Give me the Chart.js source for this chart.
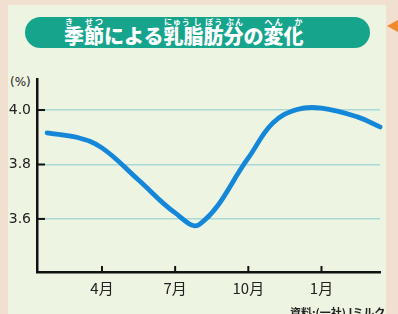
<!DOCTYPE html>
<html lang="ja">
<head>
<meta charset="utf-8">
<script src="https://cdn.jsdelivr.net/npm/chart.js@4"></script>
<style>
  html, body { margin: 0; padding: 0; }
  body {
    width: 398px; height: 314px; overflow: hidden; position: relative;
    background: #f1dfcf;
    font-family: "Noto Sans CJK JP", "Noto Sans", sans-serif;
  }
  .panel {
    position: absolute; left: 8px; top: 5px; width: 378px; height: 309px;
    background: #edf4e1;
  }
  .banner {
    position: absolute; left: 25px; top: 17px; width: 345px; height: 31px;
    border-radius: 16px; background: #17a48d;
  }
  .title {
    position: absolute; left: 64px; top: 17px; white-space: nowrap;
    color: #fff; font-weight: 900; font-size: 20px; line-height: 20px;
  }
  .title ruby rt { font-size: 8px; line-height: 8px; font-weight: 700; }
  .arrow {
    position: absolute; left: 387px; top: 20px; width: 0; height: 0;
    border-top: 6px solid transparent; border-bottom: 6px solid transparent;
    border-right: 11px solid #f08a2a;
  }
  .unit { position: absolute; left: 10px; top: 75px; font-size: 12px; color: #222; font-family: "DejaVu Sans", sans-serif; }
  .source { position: absolute; left: 290px; top: 304px; font-size: 11px; color: #222; font-weight: 700; white-space: nowrap; }
  #chart { position: absolute; left: 0; top: 0; }
</style>
</head>
<body>
<div class="panel"></div>
<div class="banner"></div>
<div class="title"><ruby>季節<rt>き　せつ</rt></ruby>による<ruby>乳脂肪分<rt>にゅう し ぼう ぶん</rt></ruby>の<ruby>変化<rt>へん　か</rt></ruby></div>
<div class="arrow"></div>
<div class="unit">(%)</div>
<canvas id="chart" width="398" height="314"></canvas>
<div class="source">資料:(一社)Jミルク</div>
<script>
// month position (13 = next January) and fat percentage
const months = [1.75, 3, 4, 5.5, 7, 8, 10, 11, 12, 13, 14.5, 15.4];
const fatPct = [3.916, 3.899, 3.861, 3.743, 3.622, 3.580, 3.824, 3.952, 4.002, 4.007, 3.974, 3.938];

const xTicks = [4, 7, 10, 13];
const xTickLabels = ['4月', '7月', '10月', '1月'];
const yTicks = [3.6, 3.8, 4.0];

const points = months.map((m, i) => ({ x: m, y: fatPct[i] }));

// short black tick marks drawn inside the plot area
const innerTicks = {
  id: 'innerTicks',
  afterDraw(chart) {
    const { ctx, chartArea, scales } = chart;
    ctx.save();
    ctx.strokeStyle = '#111';
    ctx.lineWidth = 2;
    yTicks.forEach(v => {
      const y = scales.y.getPixelForValue(v);
      ctx.beginPath();
      ctx.moveTo(chartArea.left, y);
      ctx.lineTo(chartArea.left + 8, y);
      ctx.stroke();
    });
    xTicks.forEach(v => {
      const x = scales.x.getPixelForValue(v);
      ctx.beginPath();
      ctx.moveTo(x, chartArea.bottom);
      ctx.lineTo(x, chartArea.bottom - 6);
      ctx.stroke();
    });
    ctx.restore();
  }
};

new Chart(document.getElementById('chart'), {
  type: 'line',
  data: {
    datasets: [{
      data: points,
      borderColor: '#1587d8',
      borderWidth: 4.8,
      borderCapStyle: 'round',
      tension: 0.4,
      pointRadius: 0,
      fill: false,
      clip: false
    }]
  },
  options: {
    responsive: false,
    animation: false,
    layout: { padding: { top: 79, right: 18, bottom: 10, left: 0 } },
    plugins: { legend: { display: false }, tooltip: { enabled: false } },
    scales: {
      x: {
        type: 'linear',
        min: 1.336,
        max: 15.4,
        afterBuildTicks: s => { s.ticks = xTicks.map(v => ({ value: v })); },
        afterFit: s => { s.height = 32; },
        grid: { display: false, drawTicks: false },
        border: { color: '#111', width: 2.5 },
        ticks: {
          padding: 7,
          color: '#222',
          font: { size: 15, family: '"Noto Sans CJK JP", sans-serif' },
          maxRotation: 0,
          callback: v => xTickLabels[xTicks.indexOf(v)]
        }
      },
      y: {
        min: 3.405,
        max: 4.114,
        afterBuildTicks: s => { s.ticks = yTicks.map(v => ({ value: v })); },
        afterFit: s => { s.width = 37; },
        grid: { color: '#a9d9d6', lineWidth: 1.5, drawTicks: false },
        border: { color: '#111', width: 2.5 },
        ticks: {
          padding: 6,
          color: '#222',
          font: { size: 14, family: '"DejaVu Sans", sans-serif' },
          callback: v => v.toFixed(1)
        }
      }
    }
  },
  plugins: [innerTicks]
});
</script>
</body>
</html>
